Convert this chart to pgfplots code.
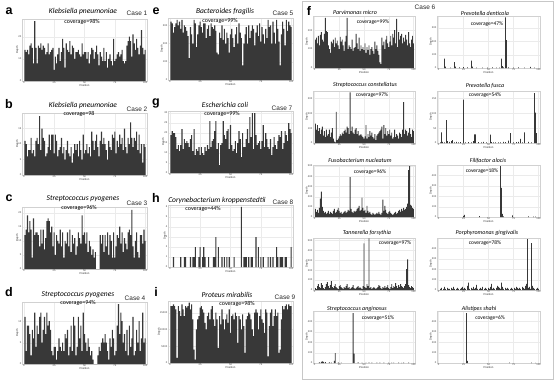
\documentclass[border=0pt]{standalone}
\usepackage{pgfplots}
\pgfplotsset{compat=1.18}
\usepackage{pgfplotstable}
\usepackage{fontspec}
\setmainfont{Liberation Sans}
\newfontfamily\calfont{Carlito}
\definecolor{barc}{HTML}{383838}

\pgfplotstableread{
x a b c d e g i fa fc fe fg fh
1 14 11 12 11 320 19 17 150 130 80 20 0
2 13 10 14 3 310 21 17 160 90 50 10 10
3 14 6 19 9 260 20 17.5 130 120 70 40 20
4 12 8 13 9 290 20 17 170 80 40 60 0
5 16 8 17 7 310 18 16 120 100 90 30 10
6 17 12 14 2 330 12 1.5 175 60 180 20 30
7 15 7 4 8 300 14 17 190 90 250 70 10
8 8 8 18 6 320 11 15.5 150 110 100 50 0
9 27 6 12 12 280 14 14 140 50 60 20 20
10 15 11 13 4 330 22 17.5 180 80 40 10 10
11 8 12 13 9 260 12 16 265 40 50 30 10
12 16 10 12 7 300 17 14 195 90 30 60 0
13 15 19 8 11 290 15 17 190 50 40 80 20
14 17 8 14 12 270 16 16.5 120 60 60 40 10
15 14 15 9 5 240 15 17 100 90 30 20 30
16 16 12 14 8 120 13 18 80 40 50 50 10
17 15 11 7 11 290 17 16 140 70 40 90 0
18 12 6 11 7 250 19 17.5 130 100 30 30 10
19 13 7 17 12 200 11 13 150 30 60 20 20
20 17 9 18 9 330 22 4 110 10 80 40 10
21 12 13 17 10 310 9 1 160 5 40 60 0
22 13 8 13 8 180 12 10 130 210 50 30 10
23 14 13 15 3 250 11 13 145 20 70 20 20
24 15 13 8 2 300 13 14 120 30 90 10 30
25 5 7 13 4 320 9 16.5 100 45 60 40 10
26 11 13 5 4 290 13 17 165 60 40 50 20
27 8 11 12 1 260 10 16 140 50 50 30 10
28 12 6 10 3 310 9 15 150 70 30 20 0
29 15 8 9 6 310 13 12 120 60 40 10 40
30 9 9 14 4 230 11 10 90 80 50 30 70
31 13 12 8 3 280 14 14 140 90 60 20 10
32 19 7 13 5 300 12 15 170 70 40 40 0
33 15 9 4 3 240 26 13 265 110 50 60 20
34 6 5 10 7 310 13 16 100 100 70 20 10
35 17 8 9 6 290 16 17 120 60 60 30 30
36 14 11 13 8 280 17 13 110 340 390 10 10
37 13 7 8 2 300 21 11 100 80 80 20 20
38 18 6 14 4 270 26 15 150 110 50 30 50
39 12 9 6 9 150 12 13 90 70 40 50 10
40 16 4 12 3 140 15 4.5 105 60 60 20 0
41 15 7 9 11 260 4 14 110 90 50 10 10
42 10 10 11 9 230 14 11.5 180 100 60 20 20
43 13 8 5 2 300 15 16 130 60 80 30 10
44 13 10 8 4 220 26 13 100 80 90 40 30
45 14 6 13 11 280 19 10 160 50 110 20 0
46 12 11 11 6 200 17 13 90 55 60 30 10
47 11 8 9 9 260 21 14.5 120 60 70 20 20
48 17 5 19 3 230 22 12 100 50 190 10 10
49 12 13 12 12 150 12 16 110 40 90 40 0
50 13 7 13 7 250 24 9 95 30 60 470 20
51 13 8 9 5 280 14 14 130 45 70 30 10
52 10 10 13 3 230 11 14.5 80 120 40 20 30
53 13 7 6 6 180 12 13 110 30 110 60 60
54 8 9 10 4 250 16 15 95 60 60 40 10
55 12 6 8 2 290 10 14 120 40 40 520 20
56 15 14 5 3 200 15 6 70 80 50 20 10
57 14 11 7 1 310 21 14 100 50 30 30 0
58 10 8 4 0 260 17 13 110 70 20 10 20
59 13 11 6 0 230 8 10 90 40 40 20 40
60 16 13 0 0 80 20 14.5 75 30 30 30 30
61 12 9 0 2 200 13 11 140 60 20 20 20
62 7 6 0 4 250 13 3 100 20 30 10 10
63 13 11 12 3 290 17 13 120 50 40 20 70
64 11 14 9 5 200 22 14 90 60 30 30 30
65 9 10 12 6 300 15 15 70 70 50 50 10
66 15 12 6 5 230 28 14.5 30 80 30 40 0
67 9 10 12 7 270 18 13 20 90 20 20 20
68 13 8 8 5 300 30 10 160 110 40 10 10
69 6 5 13 3 280 12 8 120 30 170 30 20
70 10 11 5 1 190 30 15 140 120 60 20 10
71 12 9 12 6 260 19 16 100 60 110 40 0
72 9 8 10 4 300 14 15 150 100 70 20 10
73 7 13 4 8 240 15 10 170 50 40 30 20
74 19 12 13 6 310 16 14 130 80 30 50 10
75 9 14 4 2 210 12 16 110 60 50 20 0
76 10 7 8 3 290 16 13 140 90 60 10 20
77 12 11 12 9 250 24 12 170 50 40 30 10
78 13 9 11 14 200 13 9 120 70 30 60 30
79 11 13 15 7 280 20 16 180 30 20 20 20
80 12 10 9 12 230 17 15 160 40 30 40 10
81 14 12 13 10 330 13 2 200 90 40 30 20
82 9 8 6 5 290 12 11 130 40 50 70 10
83 8 15 11 7 300 17 15 260 60 30 40 0
84 9 9 9 3 200 9 16 110 50 40 20 30
85 16 7 7 8 320 13 11 190 30 60 50 20
86 18 12 13 2 260 18 14 150 70 70 30 10
87 20 10 14 9 200 14 16 170 60 50 60 40
88 18 17 12 4 330 12 14 180 40 80 40 60
89 11 12 21 6 280 16 15 130 90 60 30 490
90 21 9 8 11 210 19 3 160 275 90 20 20
91 17 12 4 2 80 18 4 140 60 70 40 30
92 14 11 10 3 250 21 13 175 90 80 60 10
93 19 14 13 8 320 12 17 150 80 100 210 450
94 15 8 6 5 280 15 16 120 50 130 310 40
95 12 13 4 10 190 21 17 190 70 460 50 20
96 16 7 12 3 330 19 17.5 130 100 500 30 10
97 23 10 12 6 270 16 16 110 60 120 20 0
98 15 4 9 12 320 25 17.5 150 40 110 40 10
99 12 10 14 5 300 22 17 170 90 90 30 20
100 14 9 10 6 290 20 17 130 80 80 20 10
}\dense

\pgfplotsset{
 cov/.style={
  scale only axis, anchor=south west,
  xmin=-1.5, xmax=101.5, ymin=0,
  xtick={0,25,50,75,100},
  axis line style={draw=black!18, line width=0.3pt},
  major tick length=0pt,
  xmajorgrids, ymajorgrids, major grid style={black!8, line width=0.2pt},
  tick label style={font=\fontsize{2.6}{3}\selectfont, text=black!75, inner sep=0.6pt},
  /pgf/number format/assume math mode=true,
  scaled ticks=false,
  xlabel={Position}, ylabel={Depth},
  label style={font=\fontsize{2.8}{3}\selectfont, text=black!80},
  xlabel style={yshift=3.5pt},
  ylabel style={yshift=-4.5pt},
  ybar, bar width=0.92,
  every axis plot post/.append style={fill=barc, draw=none},
 },
 big/.style={cov, width=125pt, height=62pt},
 sm/.style={cov, width=102pt, height=52pt},
}
\tikzset{
 ttl/.style={font=\calfont\itshape\fontsize{7.5}{8}\selectfont},
 cv/.style={font=\calfont\fontsize{6}{7}\selectfont},
 ttls/.style={font=\calfont\itshape\fontsize{6}{7}\selectfont},
 cvs/.style={font=\calfont\fontsize{5.5}{6}\selectfont},
 cs/.style={font=\fontsize{6.5}{7}\selectfont, text=black!85},
 lt/.style={font=\bfseries\fontsize{12.5}{12.5}\selectfont},
}

\begin{document}
\begin{tikzpicture}
\useasboundingbox (0,0) rectangle (554pt,-380pt);

% ---------- left column ----------
\begin{axis}[big, at={(22pt,-81pt)}, ymax=28, ytick={0,10,20}]
\addplot table[x=x,y=a]{\dense};
\end{axis}
\begin{axis}[big, at={(22pt,-175pt)}, ymax=20, ytick={0,5,10,15}]
\addplot table[x=x,y=b]{\dense};
\end{axis}
\begin{axis}[big, at={(22pt,-269pt)}, ymax=22, ytick={0,5,10,15,20}]
\addplot table[x=x,y=c]{\dense};
\end{axis}
\begin{axis}[big, at={(22pt,-364pt)}, ymax=14.5, ytick={0,5,10}]
\addplot table[x=x,y=d]{\dense};
\end{axis}

% ---------- middle column ----------
\begin{axis}[big, at={(168pt,-80pt)}, ymax=340, ytick={0,100,200,300}]
\addplot table[x=x,y=e]{\dense};
\end{axis}
\begin{axis}[big, at={(168pt,-173pt)}, ymax=31, ytick={0,5,10,15,20,25,30}]
\addplot table[x=x,y=g]{\dense};
\end{axis}
\begin{axis}[big, at={(168pt,-267pt)}, ymax=6.2, ytick={0,1,2,3,4,5,6}]
\addplot coordinates {(3,1)(9,1)(12,1)(13,1)(17,1)(19,1)(20,1)(21,2)(24,1)(25,2)(27,1)(28,2)(29,1)(32,1)(36,1)(37,1)(38,3)(40,2)(43,1)(45,1)(47,1)(49,1)(53,1)(59,6)(61,1)(62,1)(63,1)(65,1)(67,1)(68,1)(71,3)(73,2)(75,1)(77,1)(81,1)(83,1)(85,1)(88,2)(89,1)(91,1)(92,1)(93,1)(95,1)(96,1)(100,2)};
\end{axis}
\begin{axis}[big, at={(168pt,-363pt)}, ymax=18.5, ytick={0,5,10,15}, yticklabels={0,5000,10000,15000}]
\addplot table[x=x,y=i]{\dense};
\end{axis}

% ---------- panel f ----------
\draw[black!22, line width=0.4pt] (302pt,-1pt) rectangle (553.5pt,-379pt);
\begin{axis}[sm, at={(313pt,-68pt)}, ymax=275, ytick={0,100,200}]
\addplot table[x=x,y=fa]{\dense};
\end{axis}
\begin{axis}[sm, at={(437pt,-68pt)}, width=103pt, ymax=390, ytick={0,100,200,300}]
\addplot coordinates {(6,70)(7,10)(12,3)(16,45)(17,10)(21,4)(25,6)(29,4)(33,55)(34,10)(38,3)(44,2)(49,2)(54,4)(58,2)(61,3)(63,70)(64,15)(65,4)(67,380)(68,210)(70,5)(75,3)(80,4)(86,2)(92,8)(96,2)};
\end{axis}
\begin{axis}[sm, at={(313pt,-143pt)}, ymax=350, ytick={0,100,200,300}]
\addplot table[x=x,y=fc]{\dense};
\end{axis}
\begin{axis}[sm, at={(437pt,-143pt)}, width=103pt, ymax=175, ytick={0,50,100,150}]
\addplot coordinates {(2,2)(3,36)(4,4)(6,2)(8,77)(9,6)(11,4)(13,6)(14,10)(16,2)(18,4)(20,2)(22,3)(25,146)(27,2)(30,3)(33,2)(35,6)(36,29)(37,29)(40,3)(43,2)(45,4)(48,2)(52,28)(53,3)(55,2)(57,2)(60,2)(62,2)(65,4)(67,3)(70,8)(72,33)(75,2)(78,3)(80,4)(82,14)(84,2)(86,36)(90,4)(93,2)(96,168)(97,102)(98,33)};
\end{axis}
\begin{axis}[sm, at={(313pt,-217pt)}, ymax=510, ytick={0,100,200,300,400,500}]
\addplot table[x=x,y=fe]{\dense};
\end{axis}
\begin{axis}[sm, at={(437pt,-217pt)}, width=103pt, ymax=500, ytick={0,100,200,300,400}]
\addplot coordinates {(25,10)(26,20)(41,8)(62,490)(63,280)(64,30)(65,5)(74,15)(90,5)(95,4)(97,4)};
\end{axis}
\begin{axis}[sm, at={(313pt,-290pt)}, ymax=525, ytick={0,100,200,300,400,500}]
\addplot table[x=x,y=fg]{\dense};
\end{axis}
\begin{axis}[sm, at={(437pt,-290pt)}, width=103pt, ymax=500, ytick={0,100,200,300,400}]
\addplot table[x=x,y=fh]{\dense};
\end{axis}
\begin{axis}[sm, at={(313pt,-363pt)}, ymax=500, ytick={0,100,200,300,400}]
\addplot coordinates {(5,5)(7,10)(8,15)(9,10)(11,8)(15,5)(17,4)(20,20)(21,95)(24,5)(27,3)(39,480)(40,90)(44,5)(48,3)(52,4)(55,6)(58,3)(63,4)(66,3)(70,3)(75,4)(78,3)(80,3)(85,3)(88,2)(90,4)(95,3)};
\end{axis}
\begin{axis}[sm, at={(437pt,-363pt)}, width=103pt, ymax=500, ytick={0,100,200,300,400}]
\addplot coordinates {(28,480)(29,20)(71,3)(93,3)(97,2)};
\end{axis}

% ---------- texts: left column ----------
\node[lt] at (9pt,-11pt) {a};
\node[ttl] at (83pt,-12pt) {Klebsiella pneumoniae};
\node[cs] at (137pt,-13pt) {Case 1};
\node[cv] at (82pt,-22pt) {coverage=98\%};

\node[lt] at (9pt,-104pt) {b};
\node[ttl] at (83pt,-105pt) {Klebsiella pneumoniae};
\node[cs] at (137pt,-109pt) {Case 2};
\node[cv] at (79pt,-114pt) {coverage=98};

\node[lt] at (9pt,-198pt) {c};
\node[ttl] at (83pt,-199pt) {Streptococcus pyogenes};
\node[cs] at (137pt,-203pt) {Case 3};
\node[cv] at (79pt,-208pt) {coverage=96\%};

\node[lt] at (9pt,-292pt) {d};
\node[ttl] at (78pt,-295pt) {Streptococcus pyogenes};
\node[cs] at (135pt,-298pt) {Case 4};
\node[cv] at (78pt,-303pt) {coverage=94\%};

% ---------- texts: middle column ----------
\node[lt] at (156pt,-11pt) {e};
\node[ttl] at (225pt,-12pt) {Bacteroides fragilis};
\node[cs] at (283pt,-13pt) {Case 5};
\node[cv] at (220pt,-21pt) {coverage=99\%};

\node[lt] at (156pt,-103pt) {g};
\node[ttl] at (225pt,-105pt) {Escherichia coli};
\node[cs] at (282pt,-108pt) {Case 7};
\node[cv] at (222pt,-114pt) {coverage=99\%};

\node[lt] at (156pt,-198pt) {h};
\node[ttl] at (217pt,-200pt) {Corynebacterium kroppenstedtii};
\node[cs] at (283pt,-202pt) {Case 8};
\node[cv] at (203pt,-209pt) {coverage=44\%};

\node[lt] at (156pt,-292pt) {i};
\node[ttl] at (227pt,-295pt) {Proteus mirabilis};
\node[cs] at (285pt,-297pt) {Case 9};
\node[cv] at (237pt,-304pt) {coverage=98\%};

% ---------- texts: panel f ----------
\node[lt] at (309pt,-11pt) {f};
\node[cs] at (425pt,-7pt) {Case 6};
\node[ttls] at (355pt,-12pt) {Parvimonas micro};
\node[cvs] at (373pt,-22pt) {coverage=99\%};
\node[ttls] at (485pt,-13pt) {Prevotella denticola};
\node[cvs] at (487pt,-24pt) {coverage=47\%};

\node[ttls] at (365pt,-85pt) {Streptococcus constellatus};
\node[cvs] at (372pt,-95pt) {coverage=97\%};
\node[ttls] at (485pt,-86pt) {Prevotella fusca};
\node[cvs] at (485pt,-95pt) {coverage=54\%};

\node[ttls] at (360pt,-160pt) {Fusobacterium nucleatum};
\node[cvs] at (370pt,-172pt) {coverage=96\%};
\node[ttls] at (488pt,-161pt) {Filifactor alocis};
\node[cvs] at (482pt,-171pt) {coverage=18\%};

\node[ttls] at (367pt,-233pt) {Tannerella forsythia};
\node[cvs] at (395pt,-243pt) {coverage=97\%};
\node[ttls] at (487pt,-233pt) {Porphyromonas gingivalis};
\node[cvs] at (485pt,-243pt) {coverage=78\%};

\node[ttls] at (357pt,-309pt) {Streptococcus anginosus};
\node[cvs] at (378pt,-318pt) {coverage=51\%};
\node[ttls] at (479pt,-309pt) {Alistipes shahi};
\node[cvs] at (490pt,-318pt) {coverage=6\%};
\end{tikzpicture}
\end{document}
